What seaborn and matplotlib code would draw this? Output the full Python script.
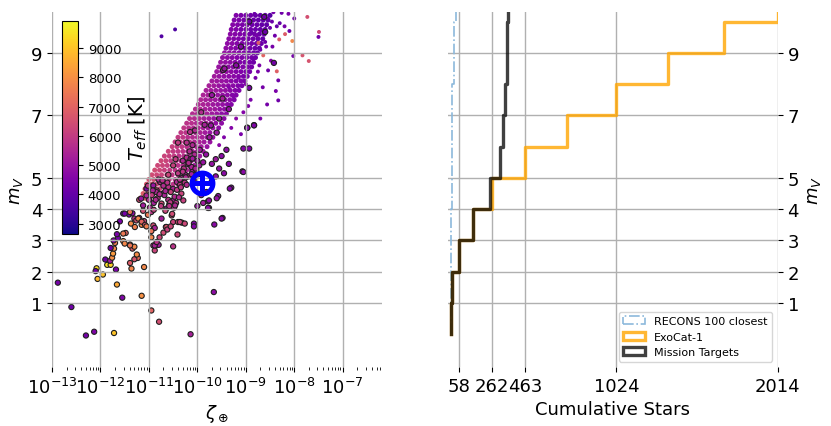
import numpy as np
import matplotlib
matplotlib.use("Agg")
import matplotlib.pyplot as plt
import seaborn as sns
from matplotlib.patches import Patch
from matplotlib.colors import Normalize
from matplotlib.cm import ScalarMappable

# ---------------- data ----------------
# Mission targets (edged points): log10(zeta), V magnitude, Teff
tgt_logz = [
    -12.88, -12.60, -12.30, -12.13, -11.72, -11.55, -11.66, -11.15, -10.95, -10.79,
    -10.14, -9.66, -11.10, -12.08, -12.06, -12.10, -11.95, -11.86, -11.79, -11.90,
    -11.80, -11.76, -11.68, -11.74, -11.72, -11.79, -11.70, -11.64, -11.66, -11.73,
    -11.48, -11.53, -11.39, -11.34, -11.30, -11.39, -11.36, -11.23, -10.91, -10.88,
    -10.84, -10.80, -10.50, -10.41, -10.65, -10.50, -10.40, -10.32, -10.07, -10.07,
    -9.65, -9.48, -9.76, -9.78, -9.57, -9.30, -9.07, -8.93, -8.97, -8.83,
    -11.53, -11.41, -11.34, -11.37, -11.30, -11.26, -11.20, -11.15, -11.10, -11.12,
    -11.02, -10.91, -10.88, -11.05, -10.91, -10.77, -10.84, -10.71, -10.60, -10.50,
    -10.42, -10.36, -10.33, -10.29, -10.50, -10.74, -10.64, -10.53, -10.74, -10.36,
    -10.26, -10.64, -10.95, -11.12, -11.20, -11.16, -11.00, -11.05, -10.96, -11.39,
    -11.50, -11.22, -11.15, -11.08, -11.05, -10.95, -10.95, -11.29, -11.60, -11.53,
    -11.50, -11.39, -11.30, -11.25, -10.88, -10.84, -10.78, -10.70, -10.62, -10.55,
    -10.98, -10.90, -10.82, -10.75, -10.68, -10.60, -10.55, -10.47, -10.42, -10.85,
    -10.70, -10.62, -10.80, -10.92, -11.02, -10.58, -10.48, -10.66, -10.52, -10.44,
    -10.32, -10.25, -10.18, -10.10, -10.05, -10.28, -10.20, -10.12, -10.02, -9.96,
    -10.30, -10.22, -10.14, -10.06, -10.00, -9.95, -10.16, -10.08, -10.26, -10.40,
    -9.88, -9.82, -9.70, -9.62, -9.55, -9.50, -9.45, -9.40, -9.35, -9.62,
    -10.40, -10.22, -10.05, -9.92, -10.15, -9.85, -9.72, -9.60, -9.48, -9.47,
    -9.44, -9.05, -9.05, -8.97, -8.83, -8.93, -8.60, -8.42, -8.93, -8.62,
    -9.81, -9.76, -9.78, -9.50, -9.33, -9.88, -9.92, -10.00, -9.70, -9.60,
    -10.50, -10.45, -10.60, -10.10, -9.75, -9.55, -9.35, -9.20, -9.70, -9.10,
    -10.36, -10.24, -10.12, -10.04, -10.18, -10.30, -10.10, -9.98, -10.22, -10.34,
    -10.78, -10.66, -10.56, -10.86, -10.94, -10.72, -10.58, -10.46, -10.38, -10.90,
]
tgt_mv = [
    1.65, 0.87, -0.04, 0.08, 0.04, 1.17, 1.59, 1.23, 0.76, 0.40,
    0.00, 1.35, 2.15, 2.11, 1.77, 2.02, 1.91, 2.22, 2.22, 2.39,
    2.35, 2.45, 2.07, 2.58, 2.74, 2.76, 2.92, 3.08, 3.20, 3.00,
    3.24, 2.98, 2.87, 2.74, 2.80, 2.28, 2.10, 2.44, 2.84, 2.68,
    2.85, 2.86, 2.81, 3.19, 3.43, 3.59, 3.59, 3.57, 3.54, 3.45,
    3.51, 3.72, 4.04, 4.25, 4.42, 4.69, 5.21, 5.94, 6.61, 6.69,
    3.86, 3.83, 3.87, 3.54, 3.70, 3.64, 3.72, 3.50, 3.62, 3.95,
    3.82, 3.48, 3.40, 4.66, 4.76, 4.87, 4.60, 4.50, 4.71, 4.65,
    4.87, 4.78, 4.50, 4.28, 4.28, 4.18, 4.02, 3.80, 3.70, 3.59,
    3.54, 3.43, 3.91, 4.12, 4.30, 4.34, 4.30, 4.44, 4.50, 3.91,
    3.86, 3.70, 3.60, 3.50, 3.45, 3.30, 3.10, 3.43, 3.61, 3.22,
    2.90, 2.84, 2.40, 2.55, 2.84, 2.95, 3.10, 3.25, 3.35, 3.45,
    4.05, 4.20, 4.35, 4.10, 4.45, 4.30, 4.55, 4.40, 4.62, 4.55,
    4.75, 4.85, 4.95, 4.60, 4.75, 4.15, 4.05, 3.95, 3.85, 4.20,
    5.00, 5.10, 5.05, 5.20, 5.00, 5.30, 5.45, 5.35, 5.25, 5.40,
    5.55, 5.65, 5.60, 5.75, 5.55, 5.90, 5.85, 4.90, 4.85, 5.15,
    5.50, 5.75, 5.45, 5.60, 5.30, 5.70, 5.15, 5.90, 5.45, 5.05,
    6.13, 6.13, 6.52, 7.10, 6.47, 6.70, 6.68, 6.45, 7.54, 8.45,
    8.50, 5.94, 5.19, 6.60, 6.68, 7.88, 9.67, 8.68, 10.00, 10.15,
    4.55, 4.28, 4.04, 3.70, 4.66, 4.20, 4.45, 4.10, 4.90, 4.35,
    5.40, 5.60, 5.10, 6.05, 6.30, 6.90, 7.20, 8.60, 7.65, 9.20,
    4.95, 5.02, 5.12, 5.30, 5.48, 5.20, 5.62, 5.12, 4.78, 4.70,
    4.48, 4.58, 4.22, 4.30, 4.45, 4.92, 4.10, 4.12, 4.38, 3.98,
]
tgt_teff = [
    4300, 4200, 4300, 4500, 9000, 4500, 8500, 8000, 7000, 6500,
    5300, 4800, 7800, 9300, 8800, 4300, 9000, 9500, 9200, 4200,
    5200, 8000, 4400, 8200, 7800, 4200, 7600, 4300, 4400, 4500,
    7000, 7800, 7200, 6800, 7800, 6800, 7800, 7200, 5600, 6200,
    6400, 5200, 5800, 6300, 6300, 6200, 6500, 6300, 4500, 4600,
    4700, 4600, 4700, 4700, 4800, 4600, 4700, 4500, 4600, 4500,
    4300, 4400, 4800, 7900, 5800, 6500, 5200, 7800, 6200, 6500,
    7500, 6400, 5400, 4500, 5000, 5600, 6300, 5200, 5800, 5400,
    5500, 5900, 6200, 6100, 5300, 6400, 5000, 6300, 5200, 6200,
    6300, 6600, 5800, 5200, 6400, 5000, 5600, 5400, 6000, 7500,
    4300, 7800, 7000, 6600, 7600, 7400, 7800, 7700, 4400, 7500,
    7800, 7400, 6600, 7900, 5300, 5800, 6300, 6400, 6100, 6300,
    5500, 5300, 5800, 6000, 5400, 5700, 6100, 5600, 5900, 5500,
    5600, 5800, 5500, 5400, 5900, 6100, 5700, 6200, 6400, 5800,
    5600, 5400, 5700, 5300, 5500, 5800, 5600, 5400, 5700, 5200,
    5500, 5600, 5300, 5500, 5100, 5200, 5600, 5400, 5800, 5900,
    5000, 4900, 4900, 5100, 4800, 4700, 4700, 4800, 4600, 4800,
    6000, 5700, 5500, 5600, 5700, 5300, 5000, 5000, 5300, 5100,
    5000, 4600, 4700, 4500, 4500, 4400, 4100, 4300, 4200, 4200,
    4900, 4800, 4700, 4700, 4600, 5200, 5300, 5000, 4800, 4900,
    6100, 6000, 6200, 5500, 5100, 5000, 4900, 4700, 5000, 4600,
    5700, 5500, 5300, 5400, 5600, 5800, 5200, 5300, 5600, 5900,
    5600, 5400, 5900, 5500, 6000, 5700, 5800, 5500, 5600, 6100,
]

# Field stars: dense main band, rows of equal magnitude
band_row_mv = [4.35, 4.50, 4.65, 4.80, 4.95, 5.10, 5.25, 5.40, 5.55, 5.70,
               5.85, 6.00, 6.15, 6.30, 6.45, 6.60, 6.75, 6.90, 7.05, 7.20,
               7.35, 7.50, 7.65, 7.80, 7.95, 8.10, 8.25, 8.40, 8.55, 8.70,
               8.85, 9.00, 9.15, 9.30, 9.45, 9.60, 9.75, 9.90, 10.05, 10.20]
band_row_logz = [
    [-11.18, -11.08, -10.98],
    [-11.12, -11.02, -10.92, -10.82, -10.70],
    [-11.08, -10.98, -10.88, -10.78, -10.66, -10.56],
    [-11.05, -10.94, -10.84, -10.74, -10.62, -10.50, -10.40],
    [-11.00, -10.90, -10.80, -10.70, -10.58, -10.46, -10.34],
    [-10.94, -10.84, -10.74, -10.63, -10.52, -10.40, -10.28],
    [-10.88, -10.78, -10.68, -10.57, -10.46, -10.35, -10.22, -10.12],
    [-10.82, -10.72, -10.62, -10.50, -10.40, -10.30, -10.18, -10.06],
    [-10.75, -10.65, -10.55, -10.44, -10.34, -10.23, -10.12, -10.00],
    [-10.68, -10.58, -10.48, -10.38, -10.28, -10.17, -10.06, -9.95],
    [-10.60, -10.50, -10.40, -10.30, -10.20, -10.10, -10.00, -9.88],
    [-10.52, -10.42, -10.32, -10.22, -10.12, -10.02, -9.92, -9.80],
    [-10.46, -10.36, -10.26, -10.16, -10.06, -9.96, -9.86, -9.74],
    [-10.40, -10.30, -10.20, -10.10, -10.00, -9.90, -9.80, -9.68],
    [-10.34, -10.24, -10.14, -10.04, -9.94, -9.84, -9.74, -9.62],
    [-10.28, -10.18, -10.08, -9.98, -9.88, -9.78, -9.68, -9.56],
    [-10.22, -10.12, -10.02, -9.92, -9.82, -9.72, -9.62, -9.50],
    [-10.16, -10.06, -9.96, -9.86, -9.76, -9.66, -9.56, -9.45],
    [-10.10, -10.00, -9.90, -9.80, -9.70, -9.60, -9.50, -9.40],
    [-10.04, -9.94, -9.84, -9.74, -9.64, -9.54, -9.44, -9.35],
    [-9.98, -9.88, -9.78, -9.68, -9.58, -9.48, -9.38, -9.30],
    [-9.93, -9.83, -9.73, -9.63, -9.53, -9.43, -9.33, -9.24],
    [-9.88, -9.78, -9.68, -9.58, -9.48, -9.38, -9.28, -9.20],
    [-9.82, -9.72, -9.62, -9.52, -9.42, -9.32, -9.22, -9.14],
    [-9.76, -9.66, -9.56, -9.46, -9.36, -9.26, -9.16, -9.08],
    [-9.70, -9.60, -9.50, -9.40, -9.30, -9.20, -9.10, -9.02],
    [-9.65, -9.55, -9.45, -9.35, -9.25, -9.15, -9.05, -8.97],
    [-9.60, -9.50, -9.40, -9.30, -9.20, -9.10, -9.00, -8.92],
    [-9.56, -9.46, -9.36, -9.26, -9.16, -9.06, -8.96, -8.88],
    [-9.52, -9.42, -9.32, -9.22, -9.12, -9.02, -8.92, -8.84],
    [-9.48, -9.38, -9.28, -9.18, -9.08, -8.98, -8.88, -8.80],
    [-9.44, -9.34, -9.24, -9.14, -9.04, -8.94, -8.84, -8.76],
    [-9.41, -9.31, -9.21, -9.11, -9.01, -8.91, -8.81, -8.72],
    [-9.38, -9.28, -9.18, -9.08, -8.98, -8.88, -8.78, -8.68],
    [-9.35, -9.25, -9.15, -9.05, -8.95, -8.85, -8.75, -8.65],
    [-9.32, -9.22, -9.12, -9.02, -8.92, -8.82, -8.72, -8.62],
    [-9.30, -9.20, -9.10, -9.00, -8.90, -8.80, -8.70, -8.60],
    [-9.27, -9.17, -9.07, -8.97, -8.87, -8.77, -8.67, -8.57],
    [-9.24, -9.14, -9.04, -8.94, -8.84, -8.74, -8.64, -8.54],
    [-9.20, -9.10, -9.00, -8.90, -8.80, -8.70, -8.60, -8.50],
]
band_row_teff = [
    [6900, 6700, 6400],
    [6800, 6600, 6400, 6200, 6000],
    [6700, 6500, 6300, 6200, 6000, 5800],
    [6600, 6500, 6300, 6100, 6000, 5800, 5600],
    [6500, 6400, 6200, 6100, 5900, 5700, 5500],
    [6400, 6300, 6200, 6000, 5900, 5700, 5500],
    [6400, 6300, 6100, 6000, 5800, 5700, 5500, 5300],
    [6300, 6200, 6100, 5900, 5800, 5600, 5400, 5200],
    [6300, 6200, 6000, 5900, 5700, 5600, 5400, 5200],
    [6200, 6100, 6000, 5800, 5700, 5500, 5300, 5100],
    [6200, 6000, 5900, 5800, 5600, 5400, 5300, 5100],
    [6100, 6000, 5900, 5700, 5600, 5400, 5200, 5000],
    [6000, 5900, 5800, 5700, 5500, 5400, 5200, 5000],
    [6000, 5900, 5700, 5600, 5500, 5300, 5100, 4900],
    [5900, 5800, 5700, 5500, 5400, 5200, 5000, 4900],
    [5900, 5700, 5600, 5500, 5300, 5200, 5000, 4800],
    [5800, 5700, 5500, 5400, 5300, 5100, 4900, 4800],
    [5700, 5600, 5500, 5300, 5200, 5000, 4900, 4700],
    [5600, 5500, 5400, 5300, 5100, 5000, 4800, 4700],
    [5600, 5500, 5300, 5200, 5100, 4900, 4800, 4600],
    [5500, 5400, 5300, 5100, 5000, 4900, 4700, 4600],
    [5500, 5300, 5200, 5100, 5000, 4800, 4700, 4500],
    [5400, 5300, 5200, 5000, 4900, 4800, 4600, 4500],
    [5300, 5200, 5100, 5000, 4900, 4700, 4600, 4500],
    [5300, 5200, 5000, 4900, 4800, 4700, 4500, 4400],
    [5200, 5100, 5000, 4900, 4700, 4600, 4500, 4400],
    [5200, 5000, 4900, 4800, 4700, 4600, 4400, 4300],
    [5100, 5000, 4900, 4800, 4600, 4500, 4400, 4300],
    [5000, 4900, 4800, 4700, 4600, 4500, 4400, 4300],
    [5000, 4900, 4800, 4700, 4500, 4400, 4300, 4200],
    [4900, 4800, 4700, 4600, 4500, 4400, 4300, 4200],
    [4900, 4800, 4700, 4600, 4500, 4300, 4200, 4100],
    [4800, 4700, 4600, 4500, 4400, 4300, 4200, 4100],
    [4800, 4700, 4600, 4500, 4400, 4300, 4200, 4100],
    [4700, 4600, 4500, 4400, 4300, 4200, 4100, 4000],
    [4700, 4600, 4500, 4400, 4300, 4200, 4100, 4000],
    [4600, 4500, 4400, 4300, 4200, 4100, 4000, 4000],
    [4600, 4500, 4400, 4300, 4200, 4100, 4000, 3900],
    [4500, 4400, 4300, 4200, 4100, 4000, 3900, 3900],
    [4500, 4400, 4300, 4200, 4100, 4000, 3900, 3800],
]

# Field stars scattered outside the band
fld_logz = [
    -10.74, -10.46, -8.43, -8.26, -8.12, -8.00, -7.73, -7.49, -7.50, -8.19,
    -8.04, -8.31, -8.74, -8.64, -8.36, -7.83, -7.70, -8.02, -8.54, -8.33,
    -8.38, -8.33, -8.56, -8.75, -8.80, -8.70, -8.50, -8.40, -8.30, -8.55,
    -8.65, -8.90, -8.85, -8.45, -8.20, -8.10, -8.60, -8.95, -9.05, -9.20,
    -9.30, -9.45, -9.25, -9.10, -11.05, -11.00, -8.70, -8.48, -9.00, -8.78,
    -8.46, -8.36, -8.66, -8.58, -8.88, -8.72, -9.15, -9.35, -9.55, -8.82,
]
fld_mv = [
    9.53, 9.75, 10.30, 10.28, 10.25, 10.10, 10.15, 9.67, 9.51, 9.60,
    9.38, 9.43, 9.32, 8.92, 8.41, 8.92, 8.74, 8.90, 8.44, 8.12,
    7.78, 7.48, 7.35, 8.40, 8.20, 9.10, 9.80, 9.55, 9.95, 10.10,
    7.90, 7.50, 8.80, 9.20, 9.85, 9.70, 9.35, 7.30, 7.10, 6.90,
    6.60, 6.30, 7.60, 6.40, 4.63, 4.75, 6.90, 8.75, 8.00, 9.55,
    10.00, 9.85, 9.70, 9.20, 9.65, 8.60, 8.20, 7.90, 6.05, 10.25,
]
fld_teff = [
    3700, 3600, 4300, 4200, 4400, 4200, 6500, 6300, 4200, 6800,
    7800, 6800, 6800, 7000, 6900, 6600, 6600, 4300, 4200, 4200,
    4400, 4200, 4300, 4400, 4300, 4200, 4100, 4200, 4000, 4100,
    4300, 4400, 4200, 4300, 4300, 4100, 4200, 4500, 4600, 4700,
    4600, 4500, 4500, 4400, 4500, 4400, 4400, 4600, 4500, 4300,
    4100, 4000, 4200, 4300, 4100, 4400, 4500, 4600, 4700, 4100,
]

# The Sun
sun_zeta = 1.23e-10
sun_mv = 4.83

# Cumulative star counts per integer magnitude bin
mag_edges = [0, 1, 2, 3, 4, 5, 6, 7, 8, 9, 10, 11]
recons_cum = [6, 11, 12, 12, 13, 13, 14, 15, 25, 27, 42]
exocat_cum = [7, 17, 58, 144, 263, 463, 722, 1024, 1343, 1681, 2014]
mission_cum = [7, 17, 58, 144, 246, 308, 328, 343, 351, 355, 358]
count_ticks = [58, 262, 463, 1024, 2014]
mv_ticks = [1, 2, 3, 4, 5, 7, 9]
teff_ticks = [3000, 4000, 5000, 6000, 7000, 8000, 9000]

# ---------------- figure ----------------
plt.rcParams['font.family'] = ['DejaVu Sans']
fig = plt.figure(figsize=(8.31, 4.27), dpi=100)
ax1 = fig.add_axes([0.0626, 0.138, 0.397, 0.831])
ax2 = fig.add_axes([0.539, 0.138, 0.397, 0.831])

norm = Normalize(vmin=2650, vmax=9920)
cmap = 'plasma'

band_logz = np.concatenate([np.asarray(r, float) for r in band_row_logz])
band_mv = np.concatenate([np.full(len(r), m) for r, m in zip(band_row_logz, band_row_mv)])
band_teff = np.concatenate([np.asarray(r, float) for r in band_row_teff])

ax1.set_xscale('log')
sns.scatterplot(x=10 ** band_logz, y=band_mv, hue=band_teff, palette=cmap, hue_norm=norm,
                s=13, linewidth=0, legend=False, ax=ax1)
sns.scatterplot(x=10 ** np.asarray(fld_logz), y=fld_mv, hue=fld_teff, palette=cmap, hue_norm=norm,
                s=8, linewidth=0, legend=False, ax=ax1)
sns.scatterplot(x=10 ** np.asarray(tgt_logz), y=tgt_mv, hue=tgt_teff, palette=cmap, hue_norm=norm,
                s=14, linewidth=0.8, edgecolor='0.12', legend=False, ax=ax1)
ax1.plot([sun_zeta], [sun_mv], marker='o', ms=15, mfc='none', mec='blue', mew=3.6, zorder=4)
ax1.plot([sun_zeta], [sun_mv], marker='+', ms=16, mec='blue', mew=3.6, zorder=4)

ax1.set_xlim(1e-13, 10 ** -6.19)
ax1.set_ylim(-1.05, 10.3)
ax1.set_yticks(mv_ticks)
ax1.set_xticks([1e-13, 1e-12, 1e-11, 1e-10, 1e-9, 1e-8, 1e-7])
ax1.set_axisbelow(False)
ax1.grid(True, which='major', color='#b0b0b0', lw=1.0)
for s in ax1.spines.values():
    s.set_visible(False)
ax1.tick_params(labelsize=13)
ax1.set_xlabel(r'$\zeta_\oplus$', fontsize=13)
ax1.set_ylabel(r'$m_V$', fontsize=13)

cax = fig.add_axes([0.0746, 0.4496, 0.0193, 0.4988])
cb = fig.colorbar(ScalarMappable(norm=norm, cmap=cmap), cax=cax)
cb.set_ticks(teff_ticks)
cb.ax.tick_params(labelsize=9.5)
cb.set_label(r'$T_{eff}$ [K]', fontsize=14)

# ---------------- right panel ----------------
centers = np.asarray(mag_edges[:-1]) + 0.5
sns.histplot(y=centers, weights=np.diff(recons_cum, prepend=0), bins=mag_edges, cumulative=True,
             element='step', fill=False, color='#8cb9dc', linestyle='-.', linewidth=1.2, ax=ax2)
sns.histplot(y=centers, weights=np.diff(exocat_cum, prepend=0), bins=mag_edges, cumulative=True,
             element='step', fill=False, color='orange', alpha=0.8, linewidth=2.4, ax=ax2)
sns.histplot(y=centers, weights=np.diff(mission_cum, prepend=0), bins=mag_edges, cumulative=True,
             element='step', fill=False, color='black', alpha=0.75, linewidth=2.4, ax=ax2)

ax2.set_xlim(-10, 2014)
ax2.set_ylim(-1.05, 10.3)
ax2.set_xticks(count_ticks)
ax2.set_yticks(mv_ticks)
ax2.yaxis.tick_right()
ax2.yaxis.set_label_position('right')
ax2.grid(True, which='major', color='#b0b0b0', lw=1.0)
for s in ax2.spines.values():
    s.set_visible(False)
ax2.tick_params(labelsize=13)
ax2.set_xlabel('Cumulative Stars', fontsize=13)
ax2.set_ylabel(r'$m_V$', fontsize=13)

handles = [
    Patch(facecolor='none', edgecolor='#8cb9dc', linestyle='-.', linewidth=1.2, label='RECONS 100 closest'),
    Patch(facecolor='none', edgecolor=(1.0, 0.647, 0.0, 0.8), linewidth=2.4, label='ExoCat-1'),
    Patch(facecolor='none', edgecolor=(0.0, 0.0, 0.0, 0.75), linewidth=2.4, label='Mission Targets'),
]
ax2.legend(handles=handles, loc='lower right', fontsize=8)

fig.savefig('out.png', dpi=100)
